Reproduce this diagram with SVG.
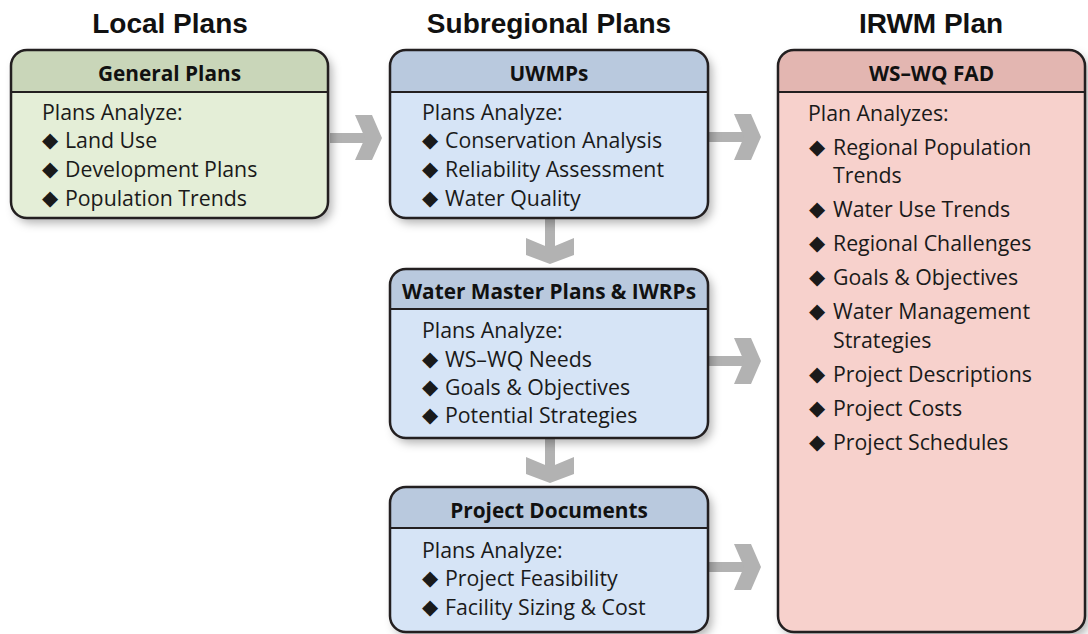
<svg xmlns="http://www.w3.org/2000/svg" width="1088" height="634" viewBox="0 0 1088 634">
<style>
.title{font-family:"Liberation Sans",Arial,sans-serif;font-weight:bold;font-size:28px;fill:#111;text-anchor:middle}
.hd{font-family:"Open Sans","Liberation Sans",sans-serif;font-weight:bold;font-size:20.8px;fill:#111;text-anchor:middle}
.tx{font-family:"Open Sans","Liberation Sans",sans-serif;font-size:21.3px;fill:#1a1a1a}
.b{font-family:"DejaVu Sans",sans-serif;font-size:21px}
.outline{fill:none;stroke:#231f20;stroke-width:2.5}
.sep{stroke:#231f20;stroke-width:2}
.arr{fill:#b2b2b2}
.g-body{fill:#e4eed7}.g-head{fill:#c9d6b9}
.u-body{fill:#d6e4f6}.u-head{fill:#b9c9de}
.r-body{fill:#f7d1cc}.r-head{fill:#e3b6b1}
</style>
<defs>
<filter id="sh" x="-10%" y="-10%" width="125%" height="125%">
<feDropShadow dx="4" dy="5" stdDeviation="5" flood-color="#000" flood-opacity="0.3"/>
</filter>
</defs>
<rect width="1088" height="634" fill="#fff"/>
<text class="title" x="170" y="33">Local Plans</text>
<text class="title" x="549" y="33">Subregional Plans</text>
<text class="title" x="931" y="33">IRWM Plan</text>

<g id="connectors">
<g class="arr">
<rect x="330" y="133" width="38" height="10"/>
<polygon points="355,115 372,115 382,138 372,160 355,160 365,138"/>
<rect x="708" y="132" width="38" height="10"/>
<polygon points="734,114 751,114 761,137 751,160 734,160 744,137"/>
<rect x="708" y="356" width="38" height="10"/>
<polygon points="734,338 751,338 761,361 751,384 734,384 744,361"/>
<rect x="708" y="562" width="38" height="10"/>
<polygon points="734,544 751,544 761,567 751,590 734,590 744,567"/>
<rect x="545" y="218" width="10" height="34"/>
<polygon points="526,238 526,255 550,264 574,255 574,238 550,248"/>
<rect x="545" y="438" width="10" height="34"/>
<polygon points="526,457 526,474 550,483 574,474 574,457 550,467"/>
</g>
</g>

<g id="general-plans">
<rect x="11" y="50" width="317" height="168" rx="16" class="g-body" filter="url(#sh)"/>
<path d="M11,92 V66 A16,16 0 0 1 27,50 H312 A16,16 0 0 1 328,66 V92 Z" class="g-head"/>
<line x1="11" y1="92" x2="328" y2="92" class="sep"/>
<rect x="11" y="50" width="317" height="168" rx="16" class="outline"/>
<text class="hd" x="169.5" y="81">General Plans</text>
<text class="tx" x="42" y="120">Plans Analyze:</text>
<text class="tx" x="42" y="148"><tspan class="b" dy="-1">◆</tspan><tspan x="65" dy="1">Land Use</tspan></text>
<text class="tx" x="42" y="177"><tspan class="b" dy="-1">◆</tspan><tspan x="65" dy="1">Development Plans</tspan></text>
<text class="tx" x="42" y="206"><tspan class="b" dy="-1">◆</tspan><tspan x="65" dy="1">Population Trends</tspan></text>
</g>

<g id="uwmps">
<rect x="390" y="50" width="318" height="168" rx="16" class="u-body" filter="url(#sh)"/>
<path d="M390,92 V66 A16,16 0 0 1 406,50 H692 A16,16 0 0 1 708,66 V92 Z" class="u-head"/>
<line x1="390" y1="92" x2="708" y2="92" class="sep"/>
<rect x="390" y="50" width="318" height="168" rx="16" class="outline"/>
<text class="hd" x="549" y="81">UWMPs</text>
<text class="tx" x="422" y="120">Plans Analyze:</text>
<text class="tx" x="422" y="148"><tspan class="b" dy="-1">◆</tspan><tspan x="445" dy="1">Conservation Analysis</tspan></text>
<text class="tx" x="422" y="177"><tspan class="b" dy="-1">◆</tspan><tspan x="445" dy="1">Reliability Assessment</tspan></text>
<text class="tx" x="422" y="206"><tspan class="b" dy="-1">◆</tspan><tspan x="445" dy="1">Water Quality</tspan></text>
</g>

<g id="water-master-plans">
<rect x="390" y="269" width="318" height="169" rx="16" class="u-body" filter="url(#sh)"/>
<path d="M390,309 V285 A16,16 0 0 1 406,269 H692 A16,16 0 0 1 708,285 V309 Z" class="u-head"/>
<line x1="390" y1="309" x2="708" y2="309" class="sep"/>
<rect x="390" y="269" width="318" height="169" rx="16" class="outline"/>
<text class="hd" x="549" y="299">Water Master Plans &amp; IWRPs</text>
<text class="tx" x="422" y="338">Plans Analyze:</text>
<text class="tx" x="422" y="367"><tspan class="b" dy="-1">◆</tspan><tspan x="445" dy="1">WS–WQ Needs</tspan></text>
<text class="tx" x="422" y="395"><tspan class="b" dy="-1">◆</tspan><tspan x="445" dy="1">Goals &amp; Objectives</tspan></text>
<text class="tx" x="422" y="423"><tspan class="b" dy="-1">◆</tspan><tspan x="445" dy="1">Potential Strategies</tspan></text>
</g>

<g id="project-documents">
<rect x="390" y="487" width="318" height="145" rx="16" class="u-body" filter="url(#sh)"/>
<path d="M390,528 V503 A16,16 0 0 1 406,487 H692 A16,16 0 0 1 708,503 V528 Z" class="u-head"/>
<line x1="390" y1="528" x2="708" y2="528" class="sep"/>
<rect x="390" y="487" width="318" height="145" rx="16" class="outline"/>
<text class="hd" x="549" y="518">Project Documents</text>
<text class="tx" x="422" y="558">Plans Analyze:</text>
<text class="tx" x="422" y="586"><tspan class="b" dy="-1">◆</tspan><tspan x="445" dy="1">Project Feasibility</tspan></text>
<text class="tx" x="422" y="615"><tspan class="b" dy="-1">◆</tspan><tspan x="445" dy="1">Facility Sizing &amp; Cost</tspan></text>
</g>

<g id="ws-wq-fad">
<rect x="778" y="50" width="307" height="582" rx="16" class="r-body" filter="url(#sh)"/>
<path d="M778,92 V66 A16,16 0 0 1 794,50 H1069 A16,16 0 0 1 1085,66 V92 Z" class="r-head"/>
<line x1="778" y1="92" x2="1085" y2="92" class="sep"/>
<rect x="778" y="50" width="307" height="582" rx="16" class="outline"/>
<text class="hd" x="931.5" y="81">WS–WQ FAD</text>
<text class="tx" x="808" y="121">Plan Analyzes:</text>
<text class="tx" x="809" y="155"><tspan class="b" dy="-1">◆</tspan><tspan x="833" dy="1">Regional Population</tspan></text>
<text class="tx" x="833" y="183">Trends</text>
<text class="tx" x="809" y="217"><tspan class="b" dy="-1">◆</tspan><tspan x="833" dy="1">Water Use Trends</tspan></text>
<text class="tx" x="809" y="251"><tspan class="b" dy="-1">◆</tspan><tspan x="833" dy="1">Regional Challenges</tspan></text>
<text class="tx" x="809" y="285"><tspan class="b" dy="-1">◆</tspan><tspan x="833" dy="1">Goals &amp; Objectives</tspan></text>
<text class="tx" x="809" y="319"><tspan class="b" dy="-1">◆</tspan><tspan x="833" dy="1">Water Management</tspan></text>
<text class="tx" x="833" y="348">Strategies</text>
<text class="tx" x="809" y="382"><tspan class="b" dy="-1">◆</tspan><tspan x="833" dy="1">Project Descriptions</tspan></text>
<text class="tx" x="809" y="416"><tspan class="b" dy="-1">◆</tspan><tspan x="833" dy="1">Project Costs</tspan></text>
<text class="tx" x="809" y="450"><tspan class="b" dy="-1">◆</tspan><tspan x="833" dy="1">Project Schedules</tspan></text>
</g>
</svg>
